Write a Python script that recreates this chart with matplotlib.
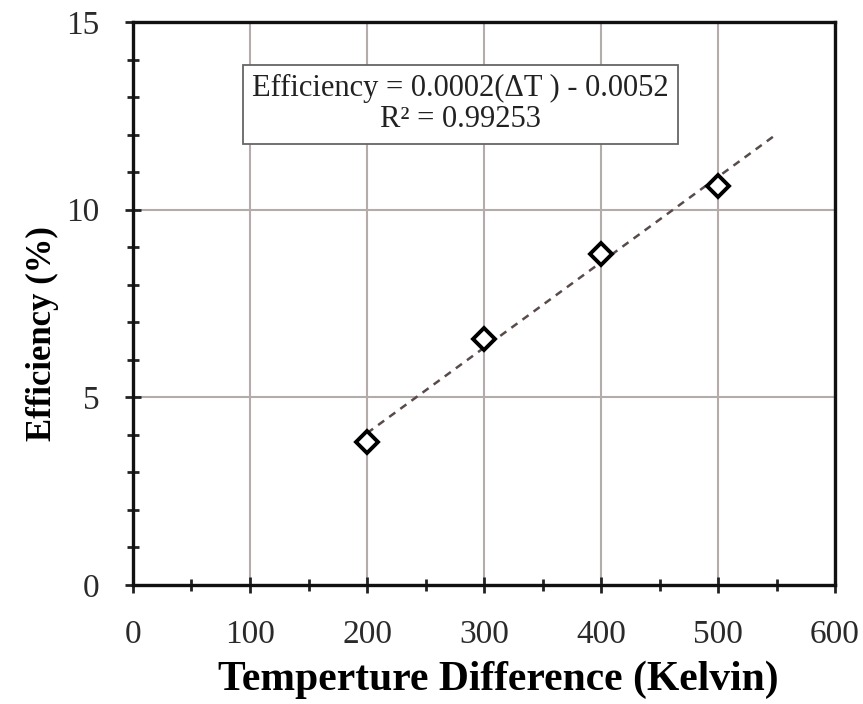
import numpy as np
import matplotlib.pyplot as plt
from matplotlib.ticker import MultipleLocator

# data
delta_t = [200, 300, 400, 500]
efficiency = [3.81, 6.56, 8.83, 10.64]

plt.rcParams['font.family'] = ['Liberation Serif', 'DejaVu Serif']

fig = plt.figure(figsize=(8.63, 7.04), dpi=100)
ax = fig.add_axes([0.1541, 0.169, 0.8135, 0.7997])

# linear trendline, extended 50 K forward like the spreadsheet one
slope, icept = np.polyfit(delta_t, efficiency, 1)
fit_x = np.array([delta_t[0], delta_t[-1] + 50])
ax.plot(fit_x, slope * fit_x + icept, ls=(0, (3, 2.5)), color='#5a4b4b', lw=1.8, zorder=3)

ax.plot(delta_t, efficiency, ls='none', marker='D', ms=11, mfc='white',
        mec='black', mew=2.8, zorder=4)

ax.set_xlim(0, 600)
ax.set_ylim(0, 15)
ax.xaxis.set_major_locator(MultipleLocator(100))
ax.xaxis.set_minor_locator(MultipleLocator(50))
ax.yaxis.set_major_locator(MultipleLocator(5))
ax.yaxis.set_minor_locator(MultipleLocator(1))
ax.tick_params(which='both', direction='inout', width=2, colors='#222222',
               labelcolor='#2a2a2a', labelsize=24)
ax.tick_params(which='major', length=12)
ax.tick_params(which='minor', length=9)
ax.tick_params(axis='x', pad=19)
ax.tick_params(axis='y', pad=18)

ax.grid(True, which='major', color='#b3acaa', lw=1.5)
ax.set_axisbelow(True)
for sp in ax.spines.values():
    sp.set_linewidth(2.4)
    sp.set_color('#111111')

ax.set_xlabel('Temperture Difference (Kelvin)', fontsize=30, fontweight='bold')
ax.set_ylabel('Efficiency (%)', fontsize=25, fontweight='bold')
ax.xaxis.set_label_coords(0.521, -0.135)
ax.yaxis.set_label_coords(-0.106, 0.446)

ax.text(280, 12.81, 'Efficiency = 0.0002(\u0394T ) - 0.0052\nR\u00b2 = 0.99253',
        ha='center', va='center', fontsize=22, color='#222222', linespacing=1.1,
        bbox=dict(boxstyle='square,pad=0.3', fc='white', ec='#666666', lw=1.3), zorder=5)

fig.savefig('out.png', dpi=100)
